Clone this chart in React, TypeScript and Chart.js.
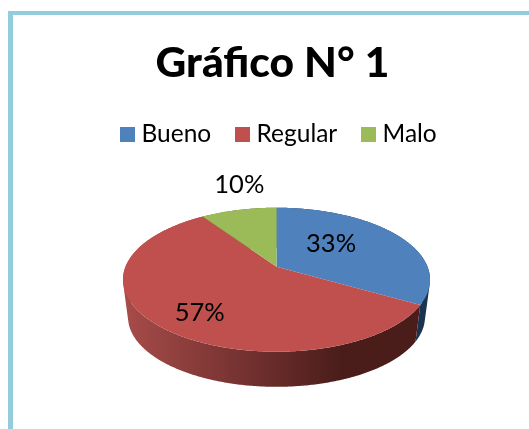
import React, { useEffect, useRef } from "react";
import { Chart, registerables } from "chart.js";

Chart.register(...registerables);

const chartTitle = "Gráfico N° 1";
const categories = ["Bueno", "Regular", "Malo"];
const shares = [33.3, 57.1, 9.5];
const topColors = ["#4F81BD", "#C0504D", "#9BBB59"];
const wallStops = [
  ["#2A4A72", "#1C3350"],
  ["#A64B49", "#4A1D1B"],
  ["#6E8A3E", "#4A5F28"],
];
const FONT = "Lato, Carlito, 'Open Sans', sans-serif";

// perspective of the tilted disc
const CX = 276.5;
const APEX_Y = 266.7;
const KX = 151;
const KY = 69.65;
const KC = -0.1806;
const MID_Y = 279.7;
const DEPTH = 37.5;
const SHRINK = 0.967;

type P = { x: number; y: number };

const project = (a: number, r = 1): P => {
  const u = Math.cos(a) * r;
  const v = Math.sin(a) * r;
  const d = 1 + KC * v;
  return { x: CX + (KX * u) / d, y: APEX_Y + (KY * v) / d };
};
const lower = (p: P): P => ({
  x: CX + SHRINK * (p.x - CX),
  y: MID_Y + DEPTH + SHRINK * (p.y - MID_Y),
});

const arcPoints = (s: number, e: number) => {
  const n = Math.max(2, Math.ceil((e - s) / 0.01));
  const pts: P[] = [];
  for (let i = 0; i <= n; i++) pts.push(project(s + ((e - s) * i) / n));
  return pts;
};

const area = (q: P[]) => {
  let s = 0;
  q.forEach((p, i) => {
    const n = q[(i + 1) % q.length];
    s += p.x * n.y - n.x * p.y;
  });
  return s;
};

const labelPlacement = [
  { r: 0.5, dx: -8, dy: -6 },
  { r: 0.7, dx: 2.5, dy: 6.5 },
  { r: 1.3, dx: 10, dy: -11 },
];

const disc3d = {
  id: "disc3d",
  afterLayout(chart: any) {
    chart.legend.left += 9;
    chart.legend.right += 9;
  },
  beforeDatasetsDraw(chart: any) {
    const { ctx } = chart;
    const arcs = chart.getDatasetMeta(0).data;
    const total = shares.reduce((a, b) => a + b, 0);
    ctx.save();
    // walls: one path of equally wound strips, so folds never cancel and no seams show
    arcs.forEach((arc: any, i: number) => {
      const pts = arcPoints(arc.startAngle, arc.endAngle);
      const g = ctx.createLinearGradient(CX - 150, 0, CX + 65, 0);
      g.addColorStop(0, wallStops[i][0]);
      g.addColorStop(1, wallStops[i][1]);
      ctx.fillStyle = g;
      ctx.beginPath();
      for (let k = 0; k < pts.length - 1; k++) {
        let q = [pts[k], pts[k + 1], lower(pts[k + 1]), lower(pts[k])];
        if (area(q) < 0) q = q.reverse();
        ctx.moveTo(q[0].x, q[0].y);
        ctx.lineTo(q[1].x, q[1].y);
        ctx.lineTo(q[2].x, q[2].y);
        ctx.lineTo(q[3].x, q[3].y);
        ctx.closePath();
      }
      ctx.fill();
    });
    // top faces
    arcs.forEach((arc: any, i: number) => {
      const pts = arcPoints(arc.startAngle, arc.endAngle);
      ctx.fillStyle = topColors[i];
      ctx.beginPath();
      ctx.moveTo(CX, APEX_Y);
      pts.forEach((p) => ctx.lineTo(p.x, p.y));
      ctx.closePath();
      ctx.fill();
    });
    // labels
    ctx.fillStyle = "#000";
    ctx.font = `25.5px ${FONT}`;
    ctx.textAlign = "center";
    ctx.textBaseline = "middle";
    arcs.forEach((arc: any, i: number) => {
      const m = (arc.startAngle + arc.endAngle) / 2;
      const pl = labelPlacement[i];
      const p = project(m, pl.r);
      ctx.fillText(`${Math.round((100 * shares[i]) / total)}%`, p.x + pl.dx, p.y + pl.dy);
    });
    ctx.restore();
    return false;
  },
};

const swatch = (color: string) => {
  const c = document.createElement("canvas");
  c.width = 15;
  c.height = 15;
  const x = c.getContext("2d")!;
  x.fillStyle = color;
  x.fillRect(0, 0, 15, 15);
  return c;
};

export default function App() {
  const ref = useRef<HTMLCanvasElement>(null);
  useEffect(() => {
    document.body.style.margin = "0";
    document.body.style.overflow = "hidden";
    const chart = new Chart(ref.current!, {
      type: "pie",
      data: {
        labels: categories,
        datasets: [{ data: shares, backgroundColor: topColors, borderWidth: 0 }],
      },
      plugins: [disc3d],
      options: {
        responsive: false,
        animation: false,
        layout: { padding: { left: 16, top: 25 } },
        plugins: {
          tooltip: { enabled: false },
          title: {
            display: true,
            text: chartTitle,
            color: "#000",
            font: { family: FONT, size: 42.5, weight: "900" },
            padding: { top: 13, bottom: 3 },
          },
          legend: {
            position: "top",
            labels: {
              color: "#000",
              font: { family: FONT, size: 24.5 },
              usePointStyle: true,
              pointStyleWidth: 3,
              padding: 30,
              generateLabels: () =>
                categories.map((t, i) => ({
                  text: t,
                  fillStyle: topColors[i],
                  strokeStyle: topColors[i],
                  lineWidth: 0,
                  pointStyle: swatch(topColors[i]),
                  index: i,
                  hidden: false,
                })),
            },
          },
        },
      },
    });
    return () => chart.destroy();
  }, []);
  return (
    <div style={{ position: "absolute", left: 0, top: 0, width: 529, height: 429, overflow: "hidden", background: "#fff" }}>
      <div style={{ position: "absolute", left: 8, top: 11, width: 530, height: 430, borderLeft: "5px solid #93CDDD", borderTop: "4px solid #93CDDD" }} />
      <canvas ref={ref} width={529} height={429} style={{ position: "absolute", left: 0, top: 0 }} />
    </div>
  );
}
